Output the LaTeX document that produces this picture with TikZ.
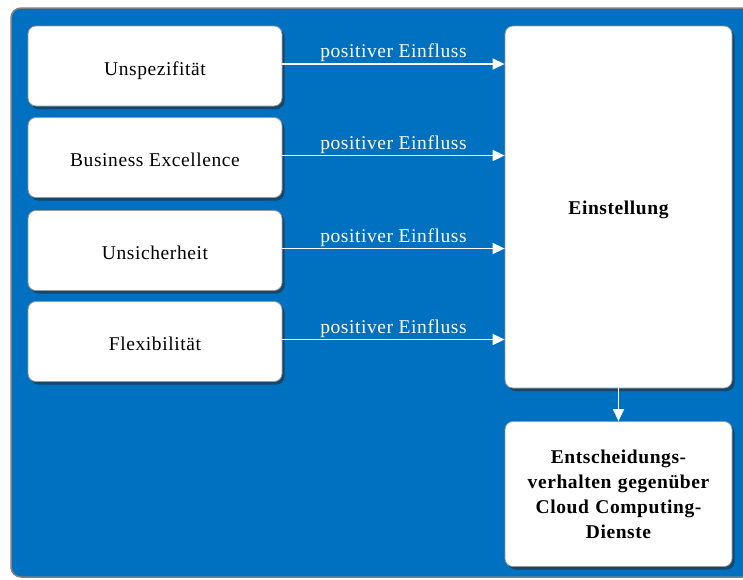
\documentclass[tikz,border=0pt]{standalone}
\usepackage{fontspec}
\setmainfont{Liberation Serif}[LetterSpace=3]
\usetikzlibrary{shadows,arrows.meta}
\definecolor{bgblue}{HTML}{0070C0}
\begin{document}
\begin{tikzpicture}[x=1pt,y=-1pt,
  box/.style={draw=gray!80, line width=0.8pt, fill=white, rounded corners=8pt,
    drop shadow={shadow xshift=2.5pt, shadow yshift=-3pt, opacity=0.55, fill=black!85},
    font=\fontsize{19.5}{25}\selectfont, align=center, inner sep=0pt},
  lbox/.style={box, minimum width=254pt, minimum height=80pt, text height=18pt, text depth=0pt},
  conn/.style={draw=white, line width=1.5pt, -{Triangle[length=12pt,width=11pt]}},
  lbl/.style={text=white, font=\fontsize{19.5}{22}\selectfont, inner sep=1.5pt}]
\useasboundingbox (0,0) rectangle (743,579);
\draw[fill=bgblue, draw=gray, line width=1.5pt, rounded corners=10pt] (11,8) rectangle (770,577);
\node[lbox] (u) at (155,66) {Unspezifität};
\node[lbox] (b) at (155,157.5) {Business Excellence};
\node[lbox] (s) at (155,250.5) {Unsicherheit};
\node[lbox] (f) at (155,341.5) {Flexibilität};
\node[box, minimum width=227pt, minimum height=362pt, text height=14pt, text depth=0pt, font=\fontsize{19.5}{25}\selectfont\bfseries] (e) at (618.5,207) {Einstellung};
\node[box, minimum width=227pt, minimum height=145pt, text width=215pt, font=\fontsize{19.5}{25}\selectfont\bfseries] (d) at (618.5,494) {Entscheidungs-\\verhalten gegenüber\\Cloud Computing-\\Dienste};
\foreach \n in {u,b,s,f}{
  \draw[conn] ([yshift=2pt]\n.east) -- ([yshift=2pt]\n.east -| e.west) node[lbl, midway, above] {positiver Einfluss};
}
\draw[conn] (e.south) -- (d.north);
\end{tikzpicture}
\end{document}
